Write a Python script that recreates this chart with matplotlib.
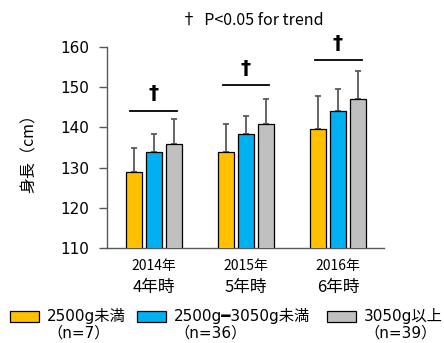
import matplotlib
matplotlib.use("Agg")
import matplotlib.pyplot as plt
import numpy as np
from matplotlib.patches import Rectangle

plt.rcParams['font.family'] = ['Noto Sans CJK JP', 'DejaVu Sans']
LATIN = ['DejaVu Sans', 'Noto Sans CJK JP']

years = ["2014年", "2015年", "2016年"]
grades = ["4年時", "5年時", "6年時"]
groups = ["2500g未満", "2500g━3050g未満", "3050g以上"]
group_n = ["（n=7）", "（n=36）", "（n=39）"]
colors = ["#FFC000", "#00B0F0", "#C0C0C0"]

means = [
    [129.0, 134.0, 139.5],   # 2500g未満
    [133.8, 138.4, 144.2],   # 2500g-3050g未満
    [135.9, 140.9, 147.0],   # 3050g以上
]
sds = [
    [5.8, 6.9, 8.4],
    [4.6, 4.4, 5.3],
    [6.1, 6.1, 7.1],
]
trend_line_y = [144.2, 150.5, 156.7]

fig = plt.figure(figsize=(4.44, 3.43), dpi=100)
ax = fig.add_axes([0.241, 0.277, 0.624, 0.586])

x = np.arange(len(years))
width = 0.174
offset = 0.221
for i in range(3):
    xi = x + (i - 1) * offset
    ax.bar(xi, means[i], width, bottom=0, color=colors[i], edgecolor="#000000",
           linewidth=0.9, zorder=3)
    ax.errorbar(xi, means[i], yerr=[np.zeros(3), sds[i]], fmt="none",
                ecolor="#595959", elinewidth=1.3, capsize=2.5, capthick=1.3, zorder=2)

for xc, ly in zip(x, trend_line_y):
    ax.plot([xc - 0.255, xc + 0.255], [ly, ly], color="#000000", lw=1.3,
            clip_on=False, zorder=4)
    ax.text(xc, ly + 1.9, "†", ha="center", va="bottom", fontsize=14.5,
            fontweight="bold", family=LATIN, clip_on=False)

ax.set_ylim(110, 160)
ax.set_xlim(-0.51, 2.5)
ax.set_yticks([110, 120, 130, 140, 150, 160])
ax.tick_params(axis="y", labelsize=11, length=6, width=1, color="#595959", pad=7)
ax.tick_params(axis="x", length=0, pad=6)
for lbl in ax.get_yticklabels():
    lbl.set_family(LATIN)
ax.set_xticks(x)
ax.set_xticklabels([""] * 3)
for xc, yr, gr in zip(x, years, grades):
    ax.text(xc, -0.09, yr, transform=ax.get_xaxis_transform(), ha="center",
            va="center", fontsize=10)
    ax.text(xc, -0.198, gr, transform=ax.get_xaxis_transform(), ha="center",
            va="center", fontsize=12)

for s in ["top", "right"]:
    ax.spines[s].set_visible(False)
ax.spines["left"].set_color("#595959")
ax.spines["bottom"].set_color("#595959")
ax.spines["left"].set_linewidth(1)
ax.spines["bottom"].set_linewidth(1)

ax.set_ylabel("身長（cm）", fontsize=11.5)
ax.yaxis.set_label_coords(-0.25, 0.49)

fig.text(252 / 444, 1 - 20 / 343, "†  P<0.05 for trend", ha="center", va="center",
         fontsize=11.5)

# Legend drawn in figure pixels
W, H = 444, 343
box_x = [9.5, 137, 327]
text_x = [47, 174, 364]
for bx, tx, lab, nl, c in zip(box_x, text_x, groups, group_n, colors):
    fig.patches.append(Rectangle((bx / W, 1 - 322 / H), 29 / W, 11 / H,
                                 transform=fig.transFigure, facecolor=c,
                                 edgecolor="#000000", linewidth=0.9))
    fig.text(tx / W, 1 - 316.5 / H, lab, ha="left", va="center", fontsize=11,
             family=LATIN)
    fig.text(tx / W, 1 - 333.5 / H, nl, ha="left", va="center", fontsize=11,
             family=LATIN)

fig.savefig("out.png", dpi=100)
